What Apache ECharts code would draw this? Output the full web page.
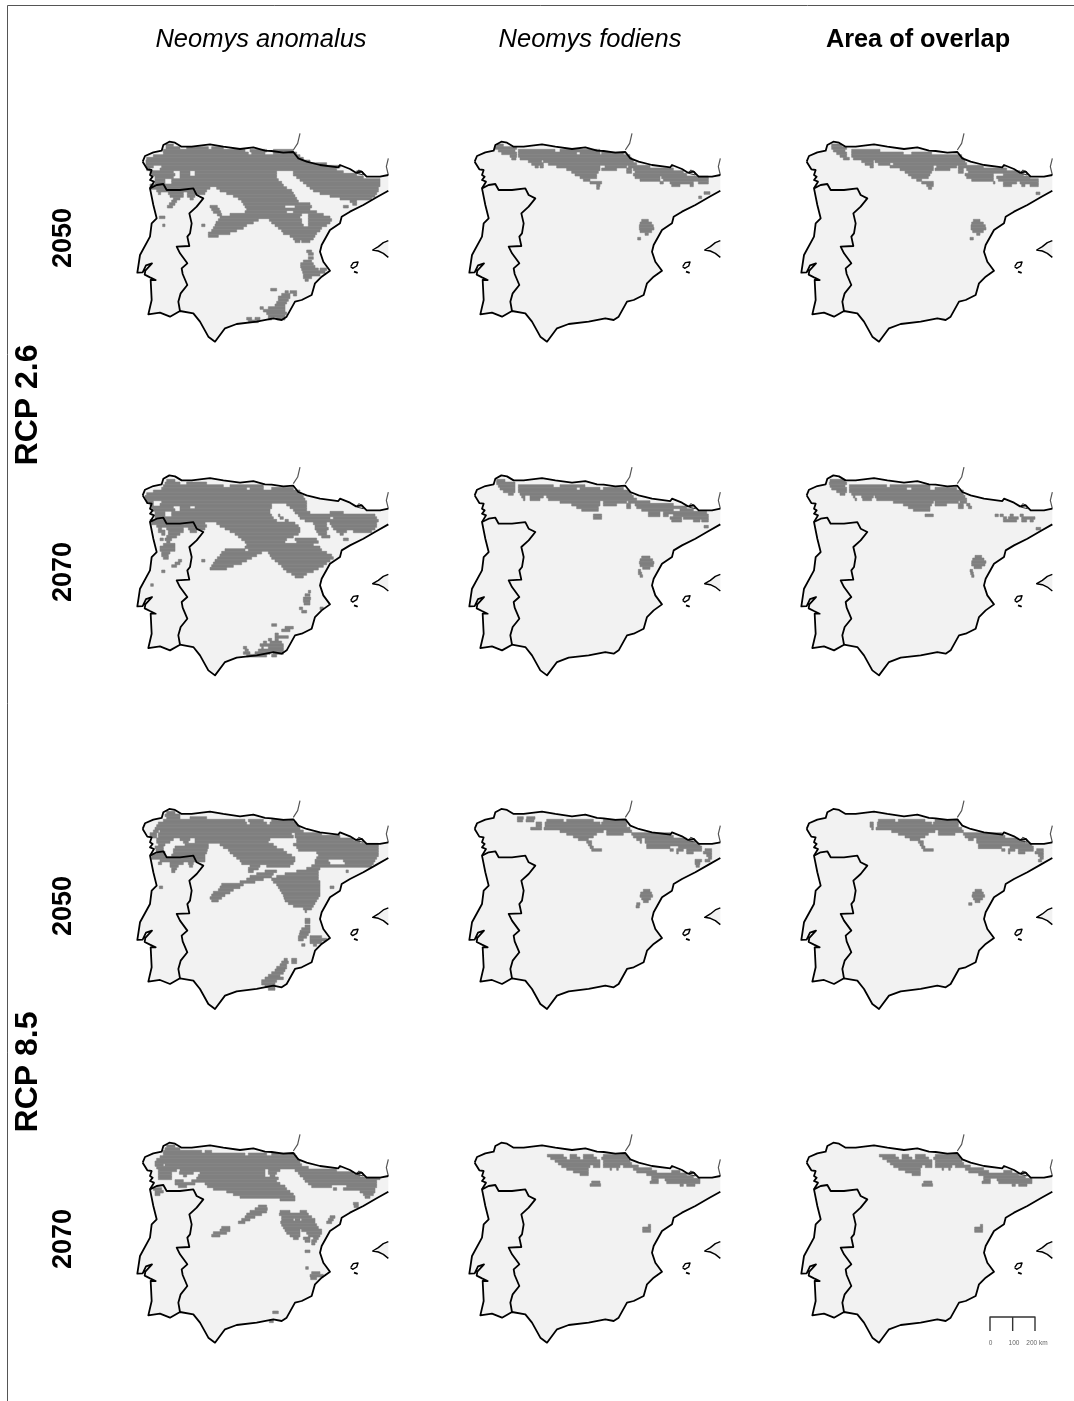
<!DOCTYPE html>
<html><head><meta charset="utf-8"><style>html,body{margin:0;padding:0;background:#fff}#c{width:1074px;height:1401px}</style>
<script src="https://cdn.jsdelivr.net/npm/echarts@6/dist/echarts.min.js"></script></head><body><div id="c"></div>
<script>
const columnTitles=['Neomys anomalus','Neomys fodiens','Area of overlap'];
const yearLabels=['2050','2070','2050','2070'];
const scenarioLabels=['RCP 2.6','RCP 8.5'];
const scaleTicks=['0','100','200 km'];
const land=[[38,125],[45,108],[70,97],[95,92],[100,75],[118,65],[135,68],[155,80],[185,80],[240,73],[280,80],[330,87],[370,82],[405,92],[425,93],[460,98],[490,96],[505,115],[530,125],[570,135],[625,142],[630,135],[660,147],[678,158],[695,155],[710,170],[750,170],[775,165],[775,212],[740,232],[700,255],[660,275],[635,290],[630,310],[600,330],[575,375],[570,395],[580,425],[600,452],[575,470],[555,490],[545,525],[515,540],[495,545],[470,590],[455,600],[430,595],[380,605],[320,612],[285,625],[255,665],[235,650],[210,605],[190,580],[150,573],[120,590],[90,578],[55,583],[65,540],[62,480],[77,480],[60,472],[44,464],[46,452],[66,430],[48,436],[38,457],[22,458],[30,405],[60,350],[65,310],[80,295],[70,255],[60,205],[72,185],[60,180],[68,170],[60,165],[65,150],[52,148],[38,125]];
const border=[[60,205],[80,195],[100,192],[110,210],[150,210],[190,205],[200,225],[220,235],[200,260],[178,280],[185,310],[180,340],[172,350],[178,378],[140,380],[150,400],[172,430],[155,445],[158,462],[172,495],[152,520],[145,545],[150,573]];
const mallorca=[[775,362],[760,368],[745,380],[728,390],[745,393],[760,400],[775,412]];
const ibiza=[[662,440],[670,428],[684,426],[680,438],[668,445],[662,440]];
const formentera=[[672,455],[681,458],[678,462],[672,455]];
const frenchCoast=[[510,40],[503,70],[490,90]];
const frenchCoast2=[[775,115],[769,140],[775,165]];
const andorra=[[680,160],[686,150],[698,155],[700,165],[680,160]];
const scaleBar=[[588,630],[588,588],[723,588],[723,630]];
const scaleMid=[[656,588],[656,630]];

const a1=[[72,108,130],[80,108,150,170,235,245,280],[88,100,345,360,410,430,490],[96,100,355,365,405,430,500],[104,70,510],[112,50,520],[120,48,540],[128,48,590],[136,50,70,95,630],[144,50,60,90,620],[152,60,130,150,180,195,440,490,640,680,690],[160,65,135,150,180,195,440,490,680],[168,75,130,150,440,500,700],[176,75,105,125,445,510,750],[184,75,105,125,455,520,750],[192,60,460,530,750],[200,60,240,260,470,540,745],[208,80,230,270,485,550,745],[216,85,92,115,160,172,225,290,490,570,740],[224,120,160,172,195,310,495,600,735],[232,130,150,180,190,325,500,630,725],[240,125,140,335,505,660,680],[248,118,135,340,540,668,680],[256,112,128,240,262,345,465,495,545,640,655],[264,245,268,350,540],[272,250,272,345,470,490,560],[280,262,275,300,515,535,580],[288,88,105,270,510,535,600],[296,265,385,418,515,535,605],[304,258,370,425,515,535,600],[312,98,105,215,225,255,350,435,520,535,590],[320,250,340,445,575],[328,245,320,455,570],[336,235,300,460,560],[344,480,555,235,265],[352,490,550],[360,495,510,515,540],[390,530,545],[398,535,550],[410,535,550],[420,520,545],[428,512,550],[436,512,555],[444,515,565,570,590],[452,518,585],[460,520,570],[468,520,545],[476,525,535],[505,422,440],[512,465,475,480,500],[520,455,480,490,500],[528,445,480],[536,445,475],[544,440,470],[552,435,465],[560,390,400,415,465],[568,400,465],[576,410,470],[584,415,465],[592,350,365,375,390,415,425,440,465],[600,355,385]];
const a2=[[72,110,135],[80,105,150,170,230],[88,100,280,300,400],[96,95,350,360,400,425,490],[104,70,510],[112,50,515],[120,45,520],[128,48,525],[136,50,70,95,530],[144,60,70,90,425,470,530],[152,65,130,150,180,195,425,480,530],[160,70,135,150,420,490,530],[168,75,105,125,420,495,540,600,640],[176,75,105,125,425,445,450,505,735],[184,75,430,450,460,510,600,610,740],[192,60,440,465,475,525,745],[200,65,225,260,495,550,590,600,740],[208,80,230,270,505,555,590,605,740],[216,85,95,110,160,175,225,285,510,555,595,610,735],[224,85,105,115,160,180,200,300,510,560,590,620,650,670,725],[232,95,105,115,150,315,505,565,590,630,640],[240,110,140,325,490,575,600],[248,90,100,105,125,335,470,495,560,640,655],[256,110,120,345,465,500,565],[264,100,135,350,550],[272,90,135,345,570],[280,90,135,285,345,355,575],[288,95,120,275,395,415,590],[296,95,115,270,380,420,605],[304,100,115,262,365,425,610],[312,145,155,215,225,255,350,435,600],[320,135,150,250,335,445,590],[328,125,140,245,310,455,580],[336,240,290,460,565],[344,95,105,470,550],[352,485,530],[360,495,520],[385,62,70],[405,535,542],[415,525,540],[425,520,542],[433,520,540],[441,522,540],[455,508,518,570,580],[465,515,530],[505,425,440],[513,465,490],[521,455,480],[533,435,445],[541,435,475],[549,415,425,435,445],[557,400,410,420,455],[565,390,460],[573,340,350,395,400,415,460],[581,345,355,385,460],[589,340,360,375,420,430,460],[597,350,410,425,440]];
const a3=[[64,110,135],[72,105,150],[80,110,150,180,230],[88,100,345,355,400,425,490],[96,85,350,360,410,420,500],[104,80,505],[112,75,510],[120,70,85,90,520],[128,60,80,85,485,495,575],[136,60,80,85,490,495,630],[144,80,130,150,180,195,420,500,670],[152,80,120,160,175,195,415,500,690],[160,85,105,165,235,270,430,490,745],[168,75,100,135,235,280,440,500,745],[176,78,100,130,232,295,460,505,745],[184,80,105,130,230,300,470,560,745],[192,65,105,125,225,310,485,565,745],[200,65,225,320,495,560,740],[208,90,225,330,495,555,595,640,735],[216,85,95,120,160,175,190,335,490,555,600,645,730],[224,120,145,178,188,360,390,410,480,545,725],[232,125,140,355,385,530,570],[240,125,135,355,370,405,440,500,565,648,655],[248,380,430,465,565],[256,360,425,440,565],[264,350,400,425,565],[272,330,375,430,570],[280,275,340,440,570],[288,88,98,270,330,445,570,600,612],[296,265,310,450,570],[304,250,300,455,570],[312,245,285,460,570],[320,240,275,462,565],[328,245,265,465,560],[336,475,555],[344,490,550],[352,520,545],[360,525,530],[385,525,540],[393,525,540],[405,525,540],[413,515,540],[421,510,540],[429,508,535],[437,505,530,540,575],[445,505,520,540,590],[453,540,575],[461,515,525,550,560],[505,462,472,485,500],[513,455,475,485,500],[521,450,470],[529,440,470],[537,435,465],[545,425,460],[553,415,450],[561,405,460],[569,395,440],[577,395,435],[585,405,435],[593,415,435]];
const a4=[[60,110,135],[68,105,150],[76,100,215,225,245],[84,100,345,355,410,425,495],[92,90,500],[100,80,505],[108,75,510],[116,75,100,105,515],[124,80,535],[132,85,140,150,405,415,450,495,620],[140,85,125,148,190,210,405,415,440,505,670],[148,85,125,160,170,205,405,420,435,510,690],[156,85,125,200,445,520,750],[164,135,160,185,440,525,740],[172,135,195,225,450,535,740],[180,145,170,232,465,545,605,650,740],[188,70,95,250,470,610,620,640,735],[196,75,100,290,480,690,735],[204,75,90,310,490,700,730],[212,330,495,705,720],[220,450,495],[232,670,685],[240,385,410,672,685],[248,375,412],[256,360,410,450,480,510,530],[264,350,395,448,535],[272,345,375,455,545,600,615],[280,335,360,455,490,495,510,515,555,595,610],[288,325,345,452,555,590,605],[296,455,560],[304,275,300,460,565],[312,270,300,465,510,515,575],[320,250,290,470,510,530,575],[328,245,270,480,510,535,570],[336,490,505,520,540,550,565],[344,525,540,545,560],[352,545,555],[375,525,540],[425,527,535],[440,545,570],[448,540,580],[456,542,560],[558,428,445],[585,418,430]];
const b1=[[72,110,130],[80,105,170],[88,115,165,175,285,300,420],[96,125,170,175,350,360,420,425,490],[104,150,170,175,510],[112,155,168,180,515],[120,205,245,250,520],[128,215,250,265,530],[136,225,235,240,250,290,420,435,500,505,570],[144,320,420,425,470,500,515,520,640],[152,335,415,500,515,525,670],[160,345,410,520,680],[168,360,410,525,600,605,745],[176,370,390,540,600,610,745],[184,390,425,600,610,630,700,715,745],[192,410,420,635,660,690,700],[200,410,418],[215,732,750],[228,716,725],[298,545,565],[306,540,575],[314,538,580],[322,538,582],[330,540,575],[338,555,565],[352,533,542]];
const b2=[[72,110,135],[80,110,165],[88,115,165,175,280,300,375],[96,120,165,175,350,360,420,430,490],[104,130,165,175,510],[112,145,160,180,515],[120,185,195,210,250,260,520],[128,190,195,210,240,265,530],[136,300,420,430,500,505,570],[144,335,420,430,470,500,512,525,640],[152,350,415,500,512,530,680],[160,365,415,545,640,660,700],[168,565,600,610,740],[176,400,425,565,600,610,625,640,745],[184,400,425,630,665,670,745],[192,635,665,700,720,725,745],[210,732,745],[302,545,570],[310,540,578],[318,538,582],[326,540,580],[334,548,570],[342,535,542],[350,535,545],[358,540,548]];
const b3=[[80,172,190,200,225],[88,172,188,198,222,260,310,320,400,430,500],[96,228,245,255,420,425,500],[104,228,245,255,500],[112,212,245,252,510],[120,300,430,440,515],[128,320,410,440,490,515,630],[136,340,400,520,640],[144,355,385,530,545,555,680],[152,380,395,540,545,555,700],[160,385,395,560,720],[168,390,400,560,630,655,725],[176,395,425,630,640,650,670,680,725,735,755],[184,650,655,680,700,730,755],[192,740,755],[200,745,755],[208,705,725,735,750],[216,705,720],[224,708,718],[298,550,570],[306,542,575],[314,540,578],[322,545,572],[330,550,565],[338,530,540],[346,528,538]];
const b4=[[88,262,310,330,350,370,400,430,500],[96,272,320,330,360,370,410,425,505],[104,285,420,430,510],[112,295,420,430,515],[120,305,390,400,420,430,480,490,535],[128,320,385,450,455,470,475,520,575],[136,340,385,530,590,635,660],[144,360,385,560,680],[152,575,700],[160,575,595,615,720],[168,395,420,570,595,620,720],[176,390,422,660,670,680,705],[298,565,572],[306,548,572],[314,548,572]];
const c1=[[72,125,155],[80,125,170],[88,130,165,185,270],[96,140,170,185,340,365,425],[104,150,170,185,515],[112,160,178,190,520],[120,215,250,255,525],[128,225,250,265,300,310,530],[136,240,250,300,430,440,500,505,580],[144,330,430,435,480,505,520,530,650],[152,345,425,505,520,535,690],[160,355,420,525,610,640,700],[168,365,415,530,610,620,720],[176,380,395,545,610,625,745],[184,395,430,610,615,640,680,690,745],[192,410,430,640,665,695,705,720,745],[200,415,425],[216,738,750],[298,550,570],[306,545,580],[314,543,586],[322,543,588],[330,548,580],[338,560,570],[352,540,550]];
const c2=[[72,120,165],[80,118,170],[88,120,165,178,290,300,420],[96,125,170,178,350,365,420,435,500],[104,140,170,178,520],[112,150,165,185,520],[120,190,195,215,250,255,525],[128,195,200,218,245,260,530],[136,310,430,435,505,510,530],[144,340,425,435,470,505,520,530,540],[152,355,420,505,520,535,545],[160,370,420],[176,405,430,615,625,630,640,660,670,690,700],[184,640,650,655,685,695,735],[192,640,680,695,710,720,730],[216,738,752],[300,555,575],[308,548,582],[316,545,588],[324,545,585],[332,552,575],[342,540,548],[350,542,550],[358,545,552]];
const c3=[[88,265,315,325,405,435,505],[96,240,250,262,425,430,505],[104,240,250,262,505],[112,245,250,258,515],[120,305,435,445,520],[128,325,415,445,495,520,635],[136,345,405,525,645],[144,360,390,535,550,560,685],[152,385,400,560,705],[160,390,400,565,725],[168,395,405,565,635,660,730],[176,400,430,635,645,655,675,685,730,740,760],[184,655,660,685,705,735,760],[192,745,760],[200,750,760],[208,745,755],[298,555,575],[306,548,580],[314,546,584],[322,550,578],[330,555,570],[338,536,546]];
const c4=[[88,268,316,336,356,376,406,436,506],[96,278,326,336,366,376,416,431,511],[104,291,426,436,516],[112,301,426,436,521],[120,311,396,406,426,436,486,496,541],[128,326,391,456,461,476,481,526,581],[136,346,391,536,596,641,666],[144,366,391,566,686],[152,581,706],[160,581,601,621,726],[168,401,426,576,601,626,726],[176,396,428,666,676,686,711],[298,571,578],[306,554,578],[314,554,578]];

const panelData=[[a1,b1,c1],[a2,b2,c2],[a3,b3,c3],[a4,b4,c4]];
const colX=[130,462,794], rowY=[120,453.7,787.3,1121];
const colShift=[0,-6,-12], rowShift=[0,5,8,12];
const CELL=8;
const chart=echarts.init(document.getElementById('c'));
const grid=[],xAxis=[],yAxis=[],series=[];
const lineS=(i,data,color,width,z)=>({type:'line',xAxisIndex:i,yAxisIndex:i,data,showSymbol:false,symbol:'none',silent:true,animation:false,clip:true,z,lineStyle:{color,width,join:'round'}});
panelData.forEach((row,r)=>row.forEach((panel,c)=>{
  const i=grid.length;
  grid.push({left:colX[c],top:rowY[r],width:775/3,height:230});
  xAxis.push({type:'value',gridIndex:i,min:0,max:775,show:false});
  yAxis.push({type:'value',gridIndex:i,min:0,max:690,inverse:true,show:false});
  series.push({type:'custom',xAxisIndex:i,yAxisIndex:i,silent:true,animation:false,z:1,data:[[0]],encode:{x:0,y:0},
    renderItem:(p,api)=>({type:'group',children:[land,mallorca].map(s=>({type:'polygon',shape:{points:s.map(q=>api.coord(q))},style:{fill:'#f2f2f2'}}))})});
  const rects=[];
  panel.forEach(a=>{for(let k=1;k<a.length;k+=2)rects.push([a[k]+colShift[c],a[k+1]+colShift[c],a[0]+rowShift[r]]);});
  series.push({type:'custom',xAxisIndex:i,yAxisIndex:i,silent:true,animation:false,clip:true,z:2,data:rects,encode:{x:[0,1],y:2},
    renderItem:(p,api)=>{const s=api.coord([api.value(0),api.value(2)]),e=api.coord([api.value(1),api.value(2)+CELL]);
      return {type:'rect',shape:{x:s[0],y:s[1],width:e[0]-s[0],height:e[1]-s[1]},style:{fill:'#808080',stroke:'#808080',lineWidth:0.6}};}});
  [frenchCoast,frenchCoast2].forEach(l=>series.push(lineS(i,l,'#555',1.2,3)));
  series.push(lineS(i,andorra,'#333',1,3));
  series.push(lineS(i,land.slice(0,28),'#000',1.8,4));
  series.push(lineS(i,land.slice(28),'#000',1.8,4));
  series.push(lineS(i,border,'#000',1.8,4));
  [mallorca,ibiza].forEach(l=>series.push(lineS(i,l,'#000',1.4,4)));
  series.push(lineS(i,formentera,'#000',1.8,4));
  if(r===3&&c===2){series.push(lineS(i,scaleBar,'#333',1.4,5));series.push(lineS(i,scaleMid,'#333',1.4,5));}
}));
const txt=(text,x,y,font,rot,fill)=>({type:'text',x,y,rotation:rot?Math.PI/2:0,style:{text,font,fill:fill||'#000',align:'center',verticalAlign:'middle'},silent:true});
const FF='"Liberation Sans",Arial,sans-serif';
const graphic=[{type:'polyline',shape:{points:[[7.5,1401],[7.5,5.5],[1074,5.5]]},style:{stroke:'#555',lineWidth:1,fill:null},silent:true}];
graphic.push(txt(columnTitles[0],261,40,'italic 25.5px '+FF));
graphic.push(txt(columnTitles[1],590,40,'italic 25.5px '+FF));
graphic.push(txt(columnTitles[2],918,40,'bold 25.3px '+FF));
[238,572,906,1239].forEach((y,i)=>graphic.push(txt(yearLabels[i],64,y,'bold 27px '+FF,true)));
[405,1072].forEach((y,i)=>graphic.push(txt(scenarioLabels[i],28,y,'bold 32px '+FF,true)));
[990.5,1014,1037].forEach((x,i)=>graphic.push(txt(scaleTicks[i],x,1343,'6.5px '+FF,false,'#666')));
chart.setOption({animation:false,backgroundColor:'#fff',grid,xAxis,yAxis,series,graphic});
</script></body></html>
